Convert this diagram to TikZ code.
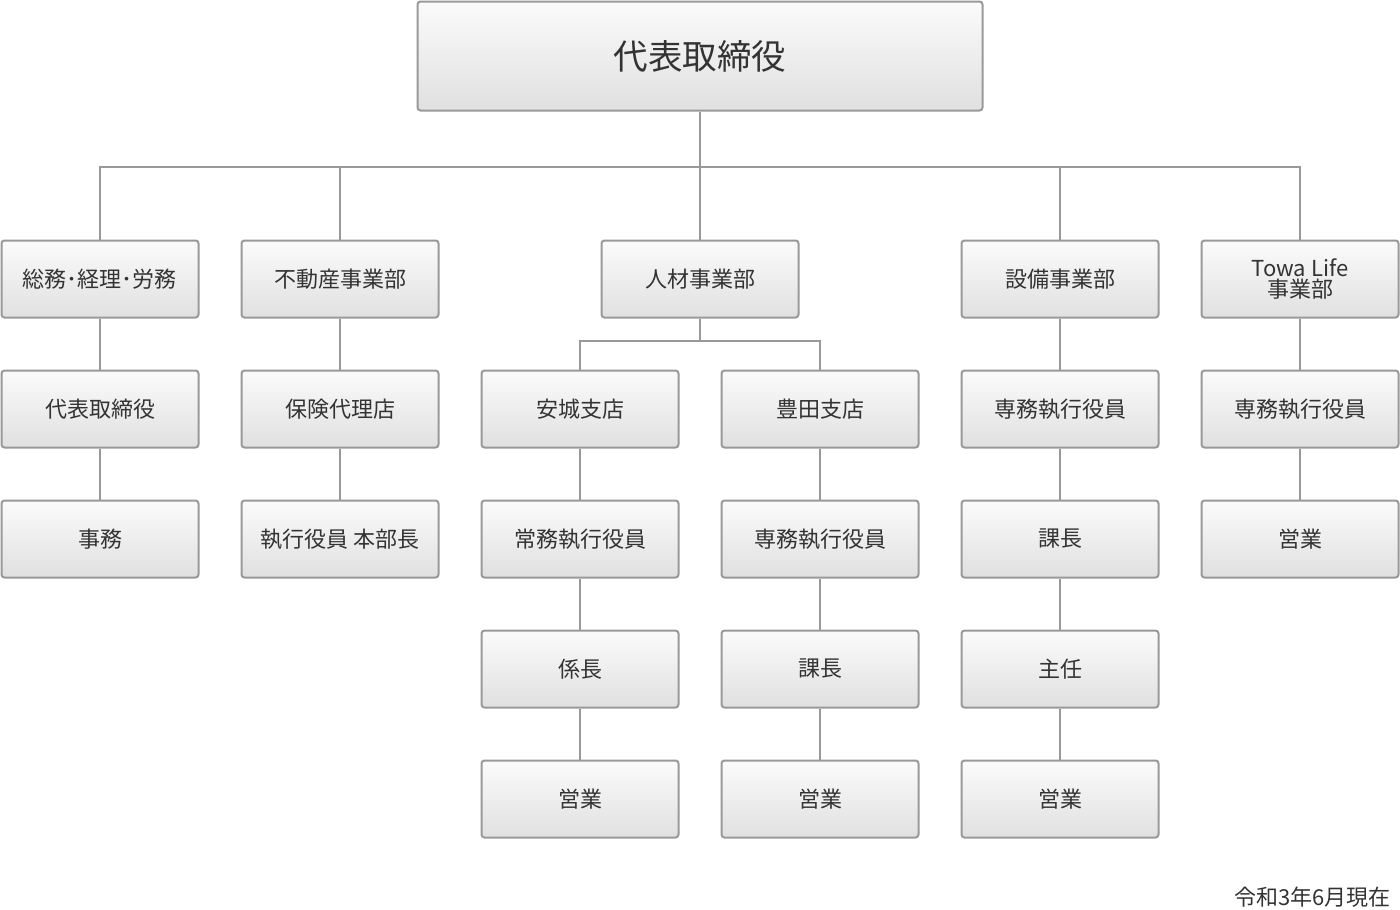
\documentclass[tikz,border=0pt]{standalone}
\usepackage{fontspec}
\setmainfont{Noto Sans CJK JP}
\usepackage{xcolor}
\usetikzlibrary{positioning}

\definecolor{boxline}{HTML}{999999}
\definecolor{boxtop}{HTML}{FBFBFB}
\definecolor{boxbot}{HTML}{E0E0E0}
\definecolor{txt}{HTML}{333333}

\tikzset{
  post/.style={draw=boxline, line width=2pt, rounded corners=3pt,
    top color=boxtop, bottom color=boxbot, text=txt,
    minimum width=197pt, minimum height=77pt, align=center,
    font=\fontsize{22}{21}\selectfont, inner sep=0pt},
  ceobox/.style={post, minimum width=565pt, minimum height=109pt,
    font=\fontsize{34.5}{36}\selectfont},
  conn/.style={draw=boxline, line width=2pt}
}

\begin{document}
\begin{tikzpicture}[x=1pt,y=-1pt]
    \useasboundingbox (0,0) rectangle (1400,910);
    % Top
    \node[ceobox] (ceo) at (700,56) {代表取締役};
    % Departments
    \node[post] (somu) at (100,279) {総務･経理･労務};
    \node[post] (fudo) at (340,279) {不動産事業部};
    \node[post] (jinzai) at (700,279) {人材事業部};
    \node[post] (setsubi) at (1060,279) {設備事業部};
    \node[post] (towa) at (1300,279) {Towa Life\\[0pt]事業部};
    % Somu column
    \node[post] (somuA) at (100,409) {代表取締役};
    \node[post] (somuB) at (100,539) {事務};
    % Fudosan column
    \node[post] (fudoA) at (340,409) {保険代理店};
    \node[post] (fudoB) at (340,539) {執行役員 本部長};
    % Jinzai: two branches
    \node[post] (anjo) at (580,409) {安城支店};
    \node[post] (anjoA) at (580,539) {常務執行役員};
    \node[post] (anjoB) at (580,669) {係長};
    \node[post] (anjoC) at (580,799) {営業};
    \node[post] (toyota) at (820,409) {豊田支店};
    \node[post] (toyotaA) at (820,539) {専務執行役員};
    \node[post] (toyotaB) at (820,669) {課長};
    \node[post] (toyotaC) at (820,799) {営業};
    % Setsubi column
    \node[post] (setsubiA) at (1060,409) {専務執行役員};
    \node[post] (setsubiB) at (1060,539) {課長};
    \node[post] (setsubiC) at (1060,669) {主任};
    \node[post] (setsubiD) at (1060,799) {営業};
    % Towa Life column
    \node[post] (towaA) at (1300,409) {専務執行役員};
    \node[post] (towaB) at (1300,539) {営業};
    % Date
    \node[anchor=south east, text=txt, font=\fontsize{22}{21}\selectfont, inner sep=0pt]
      (date) at (1391,908) {令和3年6月現在};

    % Connectors
    \coordinate (bus) at (700,167);
    \draw[conn] (ceo.south) -- (bus);
    \foreach \d in {somu,fudo,jinzai,setsubi,towa}
      \draw[conn] (bus) -| (\d.north);
    \coordinate (bus2) at (700,341);
    \draw[conn] (jinzai.south) -- (bus2);
    \draw[conn] (bus2) -| (anjo.north);
    \draw[conn] (bus2) -| (toyota.north);
    \draw[conn] (somu) -- (somuA) -- (somuB);
    \draw[conn] (fudo) -- (fudoA) -- (fudoB);
    \draw[conn] (anjo) -- (anjoA) -- (anjoB) -- (anjoC);
    \draw[conn] (toyota) -- (toyotaA) -- (toyotaB) -- (toyotaC);
    \draw[conn] (setsubi) -- (setsubiA) -- (setsubiB) -- (setsubiC) -- (setsubiD);
    \draw[conn] (towa) -- (towaA) -- (towaB);
\end{tikzpicture}
\end{document}
